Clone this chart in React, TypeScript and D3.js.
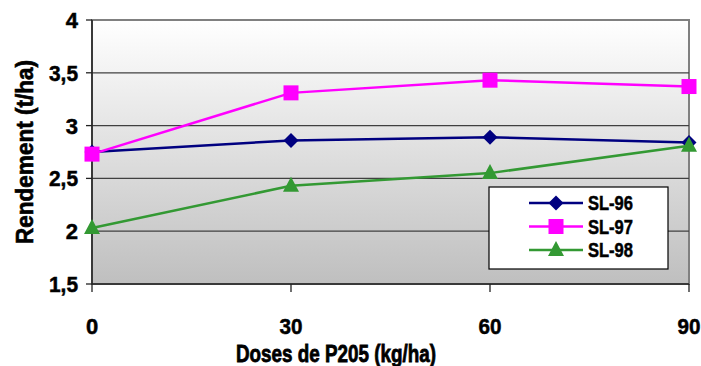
import React from "react";
import * as d3 from "d3";

const doses = [0, 30, 60, 90];
const sl96 = [2.75, 2.86, 2.89, 2.84];
const sl97 = [2.73, 3.31, 3.43, 3.37];
const sl98 = [2.03, 2.43, 2.55, 2.81];
const seriesNames = ["SL-96", "SL-97", "SL-98"];
const yTicks = [1.5, 2, 2.5, 3, 3.5, 4];

const W = 701;
const H = 366;
const M = { left: 92, right: 689, top: 20, bottom: 284 };
const FONT = "'Liberation Sans', Arial, sans-serif";

const x = d3.scaleLinear().domain([0, 90]).range([M.left, M.right]);
const y = d3.scaleLinear().domain([1.5, 4]).range([M.bottom, M.top]);

const series = [
  { name: seriesNames[0], values: sl96, color: "#000080", shape: "diamond" },
  { name: seriesNames[1], values: sl97, color: "#ff00ff", shape: "square" },
  { name: seriesNames[2], values: sl98, color: "#339933", shape: "triangle" },
];

function Marker({ shape, cx, cy, color }: { shape: string; cx: number; cy: number; color: string }) {
  if (shape === "diamond") {
    const r = 7.5;
    return <path d={`M${cx},${cy - r}L${cx + r},${cy}L${cx},${cy + r}L${cx - r},${cy}Z`} fill={color} />;
  }
  if (shape === "square") {
    const s = 15;
    return <rect x={cx - s / 2} y={cy - s / 2} width={s} height={s} fill={color} />;
  }
  const w = 16;
  const h = 15;
  return <path d={`M${cx},${cy - h * 0.6}L${cx + w / 2},${cy + h * 0.4}L${cx - w / 2},${cy + h * 0.4}Z`} fill={color} />;
}

// heavy condensed label text
const heavy = {
  fontFamily: FONT,
  fontWeight: "bold" as const,
  fill: "#000",
  stroke: "#000",
  strokeWidth: 0.5,
};

export default function App() {
  const line = d3
    .line<number>()
    .x((_, i) => x(doses[i]))
    .y((v) => y(v));

  const legendX = 489;
  const legendY = 187;

  return (
    <svg width={W} height={H} style={{ position: "absolute", left: 0, top: 0 }}>
      <defs>
        <linearGradient id="plotBg" x1="0" y1="0" x2="0" y2="1">
          <stop offset="0" stopColor="#ffffff" />
          <stop offset="1" stopColor="#bfbfbf" />
        </linearGradient>
      </defs>
      <rect x={0} y={0} width={W} height={H} fill="#fff" />
      <rect
        x={M.left}
        y={M.top}
        width={M.right - M.left}
        height={M.bottom - M.top}
        fill="url(#plotBg)"
        stroke="#808080"
        strokeWidth={2}
      />
      {yTicks.map((t) => {
        const label = String(t).replace(".", ",");
        return (
          <g key={t}>
            {t > 1.5 && t < 4 && (
              <line x1={M.left} x2={M.right} y1={y(t)} y2={y(t)} stroke="#404040" strokeWidth={1.2} />
            )}
            <line x1={M.left - 6} x2={M.left} y1={y(t)} y2={y(t)} stroke="#222" strokeWidth={1.3} />
            <text x={78} y={y(t)} dy="0.36em" textAnchor="end" fontSize={22} {...heavy}
              textLength={label.length > 1 ? 29 : undefined} lengthAdjust="spacingAndGlyphs">
              {label}
            </text>
          </g>
        );
      })}
      <line x1={M.left} x2={M.left} y1={M.top} y2={M.bottom} stroke="#222" strokeWidth={1.5} />
      <line x1={M.left} x2={M.right} y1={M.bottom} y2={M.bottom} stroke="#222" strokeWidth={1.5} />
      {doses.map((d) => (
        <g key={d}>
          <line x1={x(d)} x2={x(d)} y1={M.bottom} y2={M.bottom + 8} stroke="#222" strokeWidth={1.3} />
          <text x={x(d)} y={334} textAnchor="middle" fontSize={22} {...heavy}
            textLength={String(d).length > 1 ? 23 : undefined} lengthAdjust="spacingAndGlyphs">
            {d}
          </text>
        </g>
      ))}
      {series.map((s) => (
        <g key={s.name}>
          <path d={line(s.values) ?? ""} fill="none" stroke={s.color} strokeWidth={2.5} />
          {s.values.map((v, i) => (
            <Marker key={i} shape={s.shape} cx={x(doses[i])} cy={y(v)} color={s.color} />
          ))}
        </g>
      ))}
      <text x={236} y={362} fontSize={24} {...heavy} strokeWidth={0.8}
        textLength={200} lengthAdjust="spacingAndGlyphs">
        Doses de P205 (kg/ha)
      </text>
      <text transform={`translate(33,152) rotate(-90)`} textAnchor="middle" fontSize={23} {...heavy}
        strokeWidth={0.6} textLength={184} lengthAdjust="spacingAndGlyphs">
        Rendement (t/ha)
      </text>
      <rect x={legendX} y={legendY} width={179} height={82} fill="#fff" stroke="#000" strokeWidth={1.2} />
      {series.map((s, i) => {
        const cy = legendY + 16 + i * 23.5;
        return (
          <g key={s.name}>
            <line x1={529} x2={583} y1={cy} y2={cy} stroke={s.color} strokeWidth={2.5} />
            <Marker shape={s.shape} cx={556} cy={cy} color={s.color} />
            <text x={588} y={cy} dy="0.36em" fontSize={20} {...heavy}
              textLength={45} lengthAdjust="spacingAndGlyphs">
              {s.name}
            </text>
          </g>
        );
      })}
    </svg>
  );
}
